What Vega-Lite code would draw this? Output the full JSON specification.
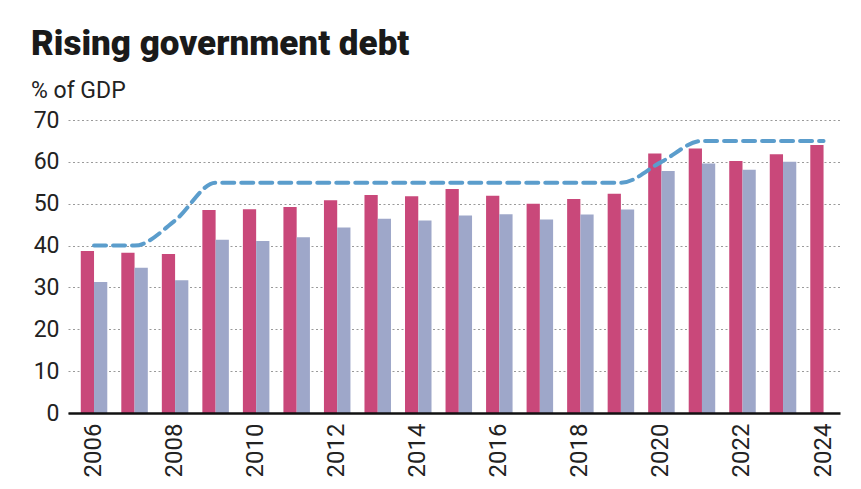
{
  "$schema": "https://vega.github.io/schema/vega-lite/v6.json",
  "width": 772,
  "height": 293,
  "autosize": {"type": "none"},
  "padding": {"left": 68, "top": 120, "right": 21, "bottom": 76},
  "background": "white",
  "config": {"view": {"stroke": null}},
  "title": {
    "text": "Rising government debt",
    "subtitle": "% of GDP",
    "anchor": "start",
    "frame": "group",
    "dx": -37,
    "offset": 6,
    "font": "Roboto",
    "fontSize": 35,
    "fontWeight": 900,
    "color": "#1a1a1a",
    "subtitleFont": "Roboto",
    "subtitleFontSize": 23,
    "subtitleColor": "#222222",
    "subtitlePadding": 18
  },
  "datasets": {
    "bars": [
      {"year": 2006, "series": "Debt", "value": 38.7},
      {"year": 2006, "series": "Comparison", "value": 31.3},
      {"year": 2007, "series": "Debt", "value": 38.3},
      {"year": 2007, "series": "Comparison", "value": 34.7},
      {"year": 2008, "series": "Debt", "value": 38.0},
      {"year": 2008, "series": "Comparison", "value": 31.7},
      {"year": 2009, "series": "Debt", "value": 48.5},
      {"year": 2009, "series": "Comparison", "value": 41.4},
      {"year": 2010, "series": "Debt", "value": 48.7},
      {"year": 2010, "series": "Comparison", "value": 41.1},
      {"year": 2011, "series": "Debt", "value": 49.2},
      {"year": 2011, "series": "Comparison", "value": 42.0},
      {"year": 2012, "series": "Debt", "value": 50.8},
      {"year": 2012, "series": "Comparison", "value": 44.3},
      {"year": 2013, "series": "Debt", "value": 52.1},
      {"year": 2013, "series": "Comparison", "value": 46.4},
      {"year": 2014, "series": "Debt", "value": 51.8},
      {"year": 2014, "series": "Comparison", "value": 46.0},
      {"year": 2015, "series": "Debt", "value": 53.5},
      {"year": 2015, "series": "Comparison", "value": 47.2},
      {"year": 2016, "series": "Debt", "value": 51.9},
      {"year": 2016, "series": "Comparison", "value": 47.5},
      {"year": 2017, "series": "Debt", "value": 50.0},
      {"year": 2017, "series": "Comparison", "value": 46.2},
      {"year": 2018, "series": "Debt", "value": 51.1},
      {"year": 2018, "series": "Comparison", "value": 47.4},
      {"year": 2019, "series": "Debt", "value": 52.4},
      {"year": 2019, "series": "Comparison", "value": 48.6},
      {"year": 2020, "series": "Debt", "value": 62.0},
      {"year": 2020, "series": "Comparison", "value": 57.8},
      {"year": 2021, "series": "Debt", "value": 63.2},
      {"year": 2021, "series": "Comparison", "value": 59.6},
      {"year": 2022, "series": "Debt", "value": 60.2},
      {"year": 2022, "series": "Comparison", "value": 58.1},
      {"year": 2023, "series": "Debt", "value": 61.8},
      {"year": 2023, "series": "Comparison", "value": 60.0},
      {"year": 2024, "series": "Debt", "value": 64.0}
    ],
    "limit": [
      {"year": 2006, "limit": 40},
      {"year": 2007, "limit": 40},
      {"year": 2008, "limit": 46},
      {"year": 2009, "limit": 55},
      {"year": 2010, "limit": 55},
      {"year": 2011, "limit": 55},
      {"year": 2012, "limit": 55},
      {"year": 2013, "limit": 55},
      {"year": 2014, "limit": 55},
      {"year": 2015, "limit": 55},
      {"year": 2016, "limit": 55},
      {"year": 2017, "limit": 55},
      {"year": 2018, "limit": 55},
      {"year": 2019, "limit": 55},
      {"year": 2020, "limit": 60},
      {"year": 2021, "limit": 65},
      {"year": 2022, "limit": 65},
      {"year": 2023, "limit": 65},
      {"year": 2024, "limit": 65}
    ]
  },
  "layer": [
    {
      "data": {"name": "bars"},
      "mark": {"type": "bar"},
      "encoding": {
        "x": {
          "field": "year",
          "type": "ordinal",
          "scale": {"paddingInner": 0.346, "paddingOuter": 0.197, "align": 0.8},
          "axis": {
            "values": [2006, 2008, 2010, 2012, 2014, 2016, 2018, 2020, 2022, 2024],
            "title": null,
            "labelAngle": -90,
            "labelFont": "Roboto",
            "labelFontSize": 24,
            "labelColor": "#222222",
            "labelPadding": 10,
            "ticks": false,
            "grid": false,
            "domainColor": "#111111",
            "domainWidth": 2.5,
            "zindex": 1
          }
        },
        "xOffset": {
          "field": "series",
          "type": "nominal",
          "scale": {"domain": ["Debt", "Comparison"], "paddingInner": 0, "paddingOuter": 0}
        },
        "y": {
          "field": "value",
          "type": "quantitative",
          "scale": {"domain": [0, 70], "nice": false},
          "axis": {
            "values": [0, 10, 20, 30, 40, 50, 60, 70],
            "title": null,
            "domain": false,
            "ticks": false,
            "labelFont": "Roboto",
            "labelFontSize": 23,
            "labelColor": "#222222",
            "labelPadding": 9,
            "gridColor": "#9a9a9a",
            "gridDash": [2, 2.5],
            "gridWidth": 1
          }
        },
        "color": {
          "field": "series",
          "type": "nominal",
          "scale": {"domain": ["Debt", "Comparison"], "range": ["#c9487a", "#9ea7c9"]},
          "legend": null
        }
      }
    },
    {
      "data": {"name": "limit"},
      "mark": {
        "type": "line",
        "interpolate": "monotone",
        "color": "#5b9dcc",
        "strokeWidth": 4,
        "strokeDash": [12, 7],
        "strokeCap": "round"
      },
      "encoding": {
        "x": {"field": "year", "type": "ordinal"},
        "y": {"field": "limit", "type": "quantitative"}
      }
    }
  ]
}
